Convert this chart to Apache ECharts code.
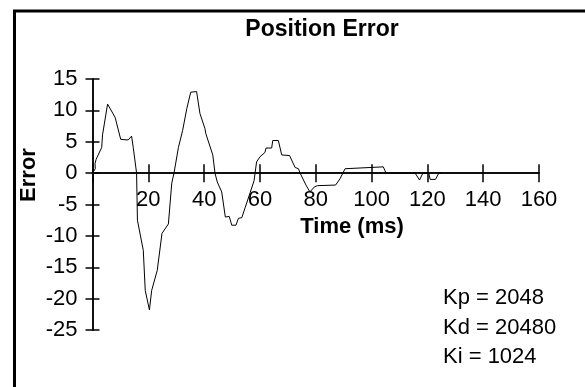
<!DOCTYPE html>
<html><head><meta charset="utf-8">
<script src="https://cdn.jsdelivr.net/npm/echarts@6/dist/echarts.min.js"></script>
<style>html,body{margin:0;padding:0;background:#fff}#c{width:585px;height:387px}</style>
</head><body><div id="c"></div>
<script>
const timeMs = [0,1.0,0.9,1.3,3.3,3.6,5.4,8.1,10.1,12.0,12.8,14.0,14.6,15.8,16.1,18.2,18.9,20.4,21.2,23.2,24.9,27.2,28.4,29.2,30.8,32.3,33.8,35.2,37.3,38.5,40.3,40.6,43.1,43.9,44.7,46.3,47.6,49.0,49.9,51.4,52.3,53.5,54.7,56.5,57.9,58.8,60.0,61.8,62.2,64.2,64.6,66.6,67.8,68.4,70.6,72.6,73.8,74.4,76.5,77.9,79.5,80.6,87.1,88.7,90.5,91.1,104.2,105.2,115.6,117.2,118.4,120.5,121.0,122.9,124.1,125];
const errorVals = [0,0.7,1.5,2.2,4.1,6.1,11.0,8.9,5.4,5.3,5.3,5.9,4.1,0,-7.5,-12.3,-18.7,-21.8,-18.7,-15.5,-9.6,-8.1,-1.6,0,4.1,6.8,10.3,12.9,13.0,9.5,7.1,6.3,2.9,0,-1.4,-3.0,-7.0,-6.9,-8.3,-8.3,-7.2,-7.1,-5.5,-3.1,-1.2,1.8,2.6,3.3,4.0,4.0,5.2,5.2,2.9,2.8,2.8,0.9,0.7,0,-1.9,-3.0,-2.2,-2.0,-1.9,-0.9,0.7,0.9,1.0,0,0,-1.1,0,0,-1.0,-1.0,0,0];
const xTickRange = [0, 160, 20];
const yTickRange = [-25, 15, 5];
const titleText = 'Position Error';
const xName = 'Time (ms)';
const yName = 'Error';
const gainLines = ['Kp = 2048', 'Kd = 20480', 'Ki = 1024'];

const FONT = '"Liberation Sans", Arial, sans-serif';
const chart = echarts.init(document.getElementById('c'), null, {renderer: 'canvas'});
const data = timeMs.map((t, i) => [t, errorVals[i]]);
const lineStyle = {color: '#000', width: 1.5};
const labelStyle = {color: '#000', fontSize: 22, fontFamily: FONT};

const G = {left: 92.5, right: 46, top: 79, bottom: 57};
const plotH = 387 - G.top - G.bottom;
const zeroH = plotH * yTickRange[1] / (yTickRange[1] - yTickRange[0]);

const hidden = {show: false};
function xAxisDef(grid, show, inside, showLabel) {
  return {
    gridIndex: grid, type: 'value', position: 'bottom',
    min: xTickRange[0], max: xTickRange[1], interval: xTickRange[2],
    axisLine: {show, onZero: false, lineStyle},
    axisTick: {show, inside, length: 9, lineStyle},
    axisLabel: {show: showLabel, margin: 16, ...labelStyle,
      formatter: v => v === 0 ? '' : String(v)},
    splitLine: hidden
  };
}
function yAxisDef(grid, show, inside, showLabel, min, max) {
  return {
    gridIndex: grid, type: 'value', position: 'left',
    min, max, interval: yTickRange[2],
    axisLine: {show, onZero: false, lineStyle},
    axisTick: {show, inside, length: 7, lineStyle},
    axisLabel: {show: showLabel, margin: 15, ...labelStyle},
    splitLine: hidden
  };
}

const gainGraphics = gainLines.map((s, i) => ({
  type: 'text', left: 443, top: 287 + i * 29.5,
  style: {text: s, fill: '#000', font: '22px ' + FONT}
}));

chart.setOption({
  animation: false,
  backgroundColor: '#fff',
  grid: [
    {...G},
    {...G},
    {left: G.left, right: G.right, top: G.top, height: zeroH},
    {left: G.left, right: G.right, top: G.top, height: zeroH}
  ],
  xAxis: [
    xAxisDef(0, false, false, false),
    xAxisDef(1, false, false, false),
    xAxisDef(2, true, false, true),
    xAxisDef(3, true, true, false)
  ],
  yAxis: [
    yAxisDef(0, true, false, true, yTickRange[0], yTickRange[1]),
    yAxisDef(1, true, true, false, yTickRange[0], yTickRange[1]),
    yAxisDef(2, false, false, false, 0, yTickRange[1]),
    yAxisDef(3, false, false, false, 0, yTickRange[1])
  ],
  series: [{
    type: 'line', data, xAxisIndex: 0, yAxisIndex: 0,
    symbol: 'none', lineStyle: {color: '#000', width: 1}, silent: true
  }],
  graphic: [
    {type: 'rect', shape: {x: 14.5, y: 11, width: 600, height: 400},
     style: {fill: 'none', stroke: '#000', lineWidth: 3}},
    {type: 'text', x: 322, y: 30,
     style: {text: titleText, fill: '#000', font: 'bold 23px ' + FONT, textAlign: 'center', textVerticalAlign: 'middle'}},
    {type: 'text', x: 352, y: 227,
     style: {text: xName, fill: '#000', font: 'bold 22px ' + FONT, textAlign: 'center', textVerticalAlign: 'middle'}},
    {type: 'text', x: 29, y: 175, rotation: Math.PI / 2,
     style: {text: yName, fill: '#000', font: 'bold 22px ' + FONT, textAlign: 'center', textVerticalAlign: 'middle'}},
    ...gainGraphics
  ]
});
</script></body></html>
